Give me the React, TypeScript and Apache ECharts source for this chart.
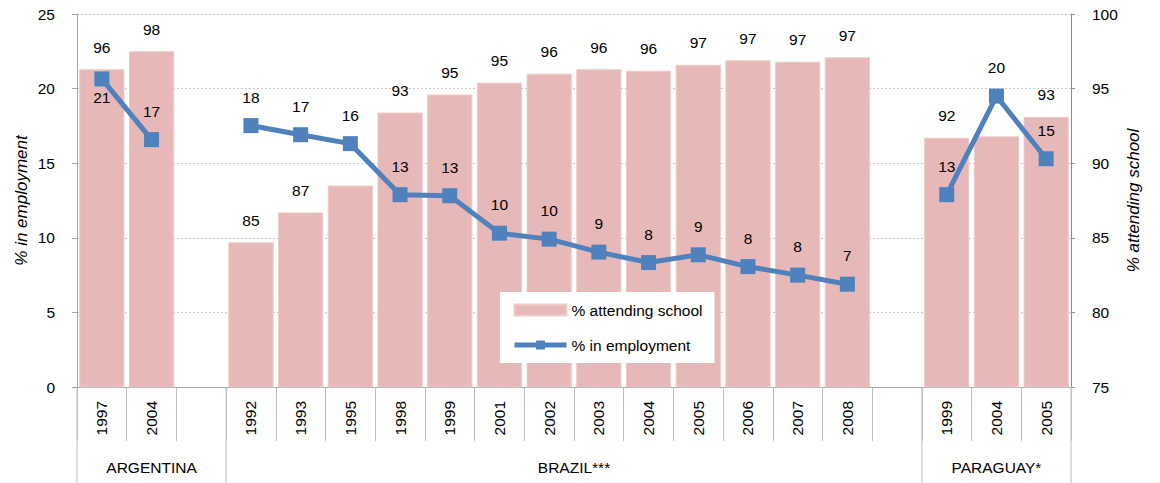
import React, { useEffect, useRef } from "react";
import * as echarts from "echarts";

const categories = ["1997", "2004", "", "1992", "1993", "1995", "1998", "1999", "2001", "2002", "2003", "2004", "2005", "2006", "2007", "2008", "", "1999", "2004", "2005"];
const attendingSchool = [96.3, 97.5, null, 84.7, 86.7, 88.5, 93.4, 94.6, 95.4, 96.0, 96.3, 96.2, 96.6, 96.9, 96.8, 97.1, null, 91.7, 91.8, 93.1];
const inEmployment = [20.65, 16.58, null, 17.52, 16.91, 16.31, 12.89, 12.82, 10.31, 9.91, 9.04, 8.34, 8.86, 8.07, 7.5, 6.89, null, 12.89, 19.5, 15.3];
const hiddenBarLabels = [5, 18];
const employmentLabelsBelow = [0];
const groupNames = ["ARGENTINA", "BRAZIL***", "PARAGUAY*"];
const groupStart = [0, 3, 17];
const groupEnd = [3, 17, 20];
const leftTicks = { min: 0, max: 25, interval: 5 };
const rightTicks = { min: 75, max: 100, interval: 5 };

const FONT = "'Liberation Sans', Arial, sans-serif";
const FS = 15.5;
const GRAY = "#a6a6a6";

export default function App() {
  const ref = useRef<HTMLDivElement>(null);
  useEffect(() => {
    if (!ref.current) return;
    const chart = echarts.init(ref.current, null, { renderer: "svg" });
    const barData = attendingSchool.map((v, i) =>
      hiddenBarLabels.includes(i) ? { value: v, label: { show: false } } : v
    );
    const lineData = inEmployment.map((v, i) =>
      employmentLabelsBelow.includes(i)
        ? { value: v, label: { position: "bottom", distance: 3 } }
        : v
    );
    chart.setOption({
      animation: false,
      textStyle: { fontFamily: FONT },
      grid: { left: 77, right: 89, top: 14, bottom: 96, containLabel: false, outerBoundsMode: "none" },
      legend: {
        orient: "vertical",
        left: 500,
        top: 292,
        padding: [10, 12, 10, 12],
        itemGap: 19,
        itemWidth: 52,
        itemHeight: 11,
        backgroundColor: "#ffffff",
        textStyle: { fontSize: FS, color: "#000", fontFamily: FONT },
        data: [
          { name: "% attending school", icon: "rect" },
          { name: "% in employment", lineStyle: { width: 5, color: "#4F81BD" }, itemStyle: { color: "#4F81BD" } },
        ],
      },
      xAxis: [
        {
          type: "category",
          data: categories,
          boundaryGap: true,
          axisLine: { show: true, lineStyle: { color: GRAY, width: 1 } },
          axisTick: { show: true, length: 54, interval: 0, lineStyle: { color: "#bfbfbf" } },
          axisLabel: { interval: 0, rotate: 90, margin: 14, fontSize: FS, color: "#000", fontFamily: FONT },
          splitLine: { show: false },
        },
      ],
      yAxis: [
        {
          type: "value",
          position: "left",
          ...leftTicks,
          name: "% in employment",
          nameLocation: "middle",
          nameGap: 47,
          nameRotate: 90,
          nameMoveOverlap: false,
          nameTextStyle: { fontSize: 17, fontStyle: "italic", color: "#000", fontFamily: FONT },
          axisLine: { show: true, lineStyle: { color: GRAY } },
          axisTick: { show: true, length: 5, lineStyle: { color: GRAY } },
          axisLabel: { margin: 22, fontSize: FS, color: "#000", fontFamily: FONT },
          splitLine: { show: true, lineStyle: { color: "#c8c8c8", type: [2, 2] } },
        },
        {
          type: "value",
          position: "right",
          ...rightTicks,
          name: "% attending school",
          nameLocation: "middle",
          nameGap: 54,
          nameRotate: 90,
          nameMoveOverlap: false,
          nameTextStyle: { fontSize: 17, fontStyle: "italic", color: "#000", fontFamily: FONT },
          axisLine: { show: true, lineStyle: { color: "#8c8c8c" } },
          axisTick: { show: true, length: 4, lineStyle: { color: "#8c8c8c" } },
          axisLabel: { margin: 21, fontSize: FS, color: "#000", fontFamily: FONT },
          splitLine: { show: false },
        },
      ],
      series: [
        {
          name: "% attending school",
          type: "bar",
          yAxisIndex: 1,
          data: barData,
          barCategoryGap: "9%",
          itemStyle: { color: "#E6B9B8", borderColor: "#EDCBCA", borderWidth: 1 },
          label: {
            show: true,
            position: "top",
            distance: 14,
            fontSize: FS,
            color: "#000",
            fontFamily: FONT,
            formatter: (p: any) => String(Math.round(p.value)),
          },
          z: 1,
        },
        {
          name: "% in employment",
          type: "line",
          yAxisIndex: 0,
          data: lineData,
          connectNulls: false,
          symbol: "rect",
          symbolSize: 15,
          lineStyle: { color: "#4F81BD", width: 5 },
          itemStyle: { color: "#4F81BD" },
          label: {
            show: true,
            position: "top",
            distance: 13,
            fontSize: FS,
            color: "#000",
            fontFamily: FONT,
            formatter: (p: any) => String(Math.round(p.value)),
          },
          z: 3,
        },
      ],
    });

    // Category group separators and labels below the axis
    const c0 = chart.convertToPixel({ xAxisIndex: 0 }, 0) as number;
    const c1 = chart.convertToPixel({ xAxisIndex: 0 }, 1) as number;
    const w = c1 - c0;
    const axisY = chart.convertToPixel({ yAxisIndex: 0 }, 0) as number;
    const bottomY = 483;
    const boundary = (i: number) => c0 - w / 2 + i * w;
    const graphics: any[] = [];
    const seps = Array.from(new Set([...groupStart, ...groupEnd]));
    seps.forEach((i) => {
      graphics.push({
        type: "line",
        shape: { x1: boundary(i), y1: axisY, x2: boundary(i), y2: bottomY },
        style: { stroke: "#bfbfbf", lineWidth: 1 },
        silent: true,
      });
    });
    groupNames.forEach((name, gi) => {
      const cx = (boundary(groupStart[gi]) + boundary(groupEnd[gi])) / 2;
      graphics.push({
        type: "text",
        x: cx,
        y: 467,
        style: {
          text: name,
          fill: "#000",
          font: `${FS}px ${FONT}`,
          textAlign: "center",
          textVerticalAlign: "middle",
        },
        silent: true,
      });
    });
    chart.setOption({ graphic: graphics });

    return () => chart.dispose();
  }, []);
  return (
    <div
      ref={ref}
      style={{ position: "fixed", left: 0, top: 0, width: 1160, height: 483, background: "#fff" }}
    />
  );
}
